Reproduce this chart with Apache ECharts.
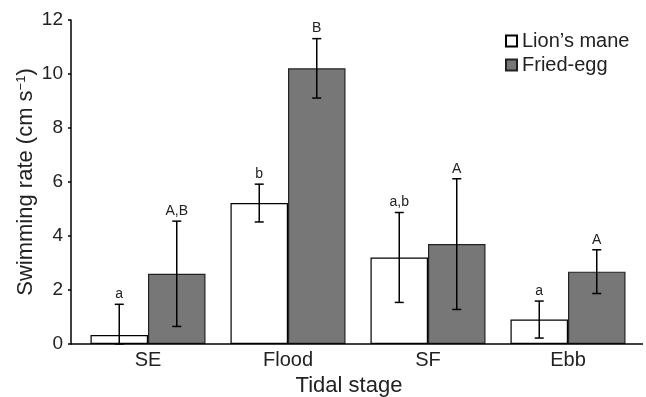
<!DOCTYPE html>
<html><head><meta charset="utf-8">
<script src="https://cdn.jsdelivr.net/npm/echarts@6/dist/echarts.min.js"></script>
<style>html,body{margin:0;padding:0;background:#fff}#c{width:646px;height:397px}</style>
</head><body><div id="c"></div>
<script>
var categories = ['SE', 'Flood', 'SF', 'Ebb'];
var lionMean = [0.33, 5.22, 3.2, 0.91];
var lionErr = [1.14, 0.7, 1.67, 0.68];
var lionLow = [0, 4.52, 1.54, 0.22];
var lionLetters = ['a', 'b', 'a,b', 'a'];
var eggMean = [2.6, 10.21, 3.7, 2.68];
var eggErr = [1.95, 1.1, 2.42, 0.81];
var eggLetters = ['A,B', 'B', 'A', 'A'];
var yTicks = [0, 2, 4, 6, 8, 10, 12];

var FONT = 'Liberation Sans, Arial, sans-serif';
var BAR_W = 57.5;

function errItem(means, errs, lows, letters, side) {
  return function (params, api) {
    var i = api.value(0);
    var m = means[i];
    var hi = m + errs[i];
    var lo = lows ? lows[i] : m - errs[i];
    var pHi = api.coord([i, hi]);
    var pLo = api.coord([i, lo]);
    var x = pHi[0] + side * BAR_W / 2;
    var cap = 4.5;
    var st = { stroke: '#000', lineWidth: 1.5 };
    return {
      type: 'group',
      children: [
        { type: 'line', shape: { x1: x, y1: pHi[1], x2: x, y2: pLo[1] }, style: st },
        { type: 'line', shape: { x1: x - cap, y1: pHi[1], x2: x + cap, y2: pHi[1] }, style: st },
        { type: 'line', shape: { x1: x - cap, y1: pLo[1], x2: x + cap, y2: pLo[1] }, style: st },
        { type: 'text', style: { text: letters[i], x: x, y: pHi[1] - 3, textAlign: 'center', textVerticalAlign: 'bottom', fill: '#222', font: '14px ' + FONT } }
      ]
    };
  };
}

var chart = echarts.init(document.getElementById('c'));
chart.setOption({
  animation: false,
  textStyle: { fontFamily: FONT },
  grid: { left: 78, top: 20, width: 560, height: 324, containLabel: false, outerBoundsMode: 'none' },
  legend: {
    orient: 'vertical', left: 500, top: 26, itemWidth: 11, itemHeight: 11, itemGap: 4, itemTextGap: 3,
    textStyle: { fontSize: 20, color: '#222', fontFamily: FONT },
    data: [{ name: 'Lion\u2019s mane', icon: 'rect' }, { name: 'Fried-egg', icon: 'rect' }]
  },
  xAxis: {
    type: 'category', data: categories,
    axisLine: { show: false }, axisTick: { show: false },
    axisLabel: { fontSize: 20, color: '#222', margin: 6 },
    name: 'Tidal stage', nameLocation: 'middle', nameGap: 31,
    nameTextStyle: { fontSize: 22, color: '#222', padding: [0, 18, 0, 0] }
  },
  yAxis: {
    type: 'value', min: 0, max: 12, interval: 2, offset: 7,
    axisLine: { show: true, lineStyle: { color: '#000', width: 1.5 } },
    axisTick: { show: true, length: 3, lineStyle: { color: '#000', width: 1.5 } },
    splitLine: { show: false },
    axisLabel: { fontSize: 19, color: '#222', margin: 8, formatter: function (v) { return yTicks.indexOf(v) >= 0 ? String(v) : ''; } },
    name: 'Swimming rate (cm s{sup|\u22121})', nameLocation: 'middle', nameGap: 34, nameMoveOverlap: false,
    nameTextStyle: { fontSize: 22, color: '#222', rich: { sup: { fontSize: 13, verticalAlign: 'top', padding: [0, 0, 9, 0] } } }
  },
  graphic: [{ type: 'line', shape: { x1: 71, y1: 344, x2: 643, y2: 344 }, style: { stroke: '#000', lineWidth: 1.5 }, z: 100 }],
  series: [
    { name: 'Lion\u2019s mane', type: 'bar', data: lionMean, barWidth: BAR_W, barGap: '0%',
      itemStyle: { color: '#fff', borderColor: '#000', borderWidth: 1.2 } },
    { name: 'Fried-egg', type: 'bar', data: eggMean, barWidth: BAR_W, barGap: '0%',
      itemStyle: { color: '#777777', borderColor: '#222', borderWidth: 1.2 } },
    { type: 'custom', renderItem: errItem(lionMean, lionErr, lionLow, lionLetters, -1), data: [[0], [1], [2], [3]], z: 10 },
    { type: 'custom', renderItem: errItem(eggMean, eggErr, null, eggLetters, 1), data: [[0], [1], [2], [3]], z: 10 }
  ]
});
</script></body></html>
